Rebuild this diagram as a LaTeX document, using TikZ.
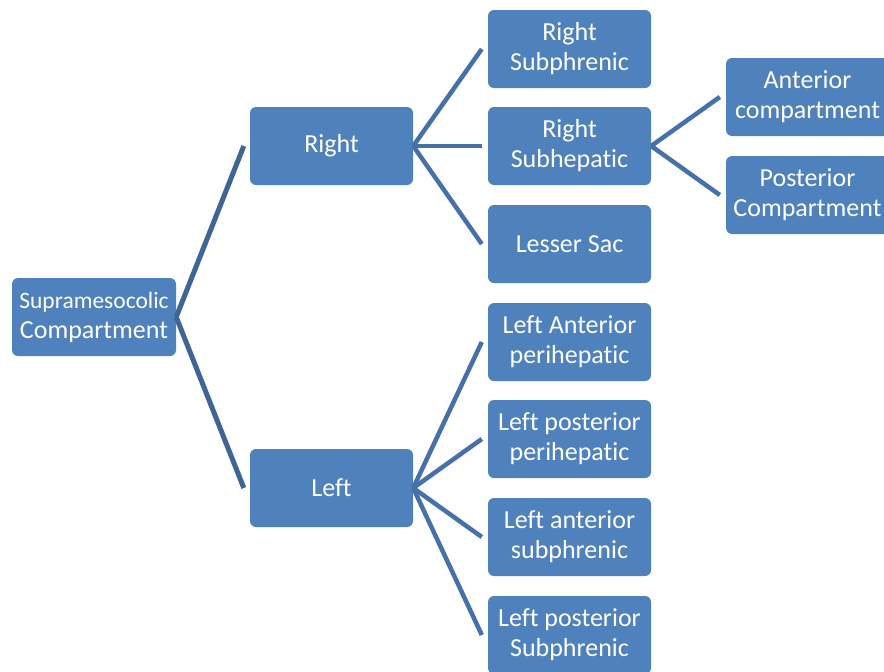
\documentclass[tikz,border=0pt]{standalone}
\usepackage{fontspec}
\setmainfont{Carlito}[Ligatures=NoCommon]
\usepackage{tikz}
\definecolor{boxblue}{RGB}{79,129,189}
\definecolor{lineblue}{RGB}{70,112,168}
\tikzset{
	box/.style={draw=none, fill=boxblue, rounded corners=6pt, minimum width=163pt, minimum height=78pt, inner sep=0pt, align=center, text=white, font=\fontsize{26}{30}\selectfont},
	link/.style={draw=lineblue, line width=4.5pt, line join=miter}
}

\begin{document}
\begin{tikzpicture}[x=1pt, y=-1pt]
				\useasboundingbox (0,0) rectangle (884,672);
				\node[box, minimum width=164pt] (sup) at (94,317) {{\fontsize{23.5}{30}\selectfont Supramesocolic}\\Compartment};
				\node[box] (right) at (331.5,146) {Right};
				\node[box] (left) at (331.5,488) {Left};
				\node[box] (rsubphr) at (569.5,49) {Right\\Subphrenic};
				\node[box] (rsubhep) at (569.5,146) {Right\\Subhepatic};
				\node[box] (lsac) at (569.5,244) {Lesser Sac};
				\node[box] (lantperi) at (569.5,342) {Left Anterior\\perihepatic};
				\node[box] (lpostperi) at (569.5,439) {Left posterior\\perihepatic};
				\node[box] (lantsubphr) at (569.5,537) {Left anterior\\subphrenic};
				\node[box] (lpostsubphr) at (569.5,635) {Left posterior\\Subphrenic};
				\node[box] (antcomp) at (807.5,97) {Anterior\\compartment};
				\node[box] (postcomp) at (807.5,195) {Posterior\\Compartment};
				\foreach \c in {right,left} {
					\draw[link, line width=5pt, draw=lineblue!90!black] (sup.east) -- ([xshift=-6pt]\c.west);
				}
				\foreach \c in {rsubphr,rsubhep,lsac} {
					\draw[link] (right.east) -- ([xshift=-6pt]\c.west);
				}
				\foreach \c in {lantperi,lpostperi,lantsubphr,lpostsubphr} {
					\draw[link] (left.east) -- ([xshift=-6pt]\c.west);
				}
				\foreach \c in {antcomp,postcomp} {
					\draw[link] (rsubhep.east) -- ([xshift=-6pt]\c.west);
				}
			\end{tikzpicture}
\end{document}
